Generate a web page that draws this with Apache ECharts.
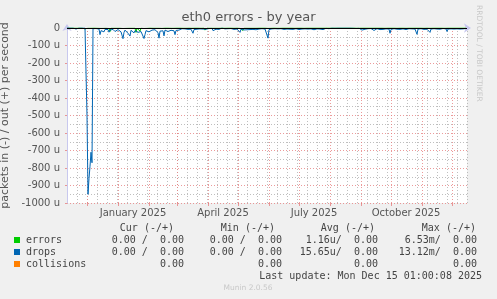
<!DOCTYPE html>
<html>
<head>
<meta charset="utf-8">
<script src="https://cdn.jsdelivr.net/npm/echarts@6/dist/echarts.min.js"></script>
<style>
html,body{margin:0;padding:0;background:#f0f0f0;}
#chart{width:497px;height:299px;}
</style>
</head>
<body>
<div id="chart"></div>
<script>
// ---- data (daily averages, micro-packets per second, "in" direction magnitude) ----
var startDate = '2024-11-11';
var endDate = '2025-12-16';
var dropsIn = [
  0,0,0,0,0,1,0,0,0,6,
  2,0,0,0,0,0,0,1,0,3,
  500,950,860,790,710,770,4,2,8,3,
  8,4,6,38,15,10,14,22,8,12,
  16,9,24,12,10,18,8,15,20,11,
  14,9,17,12,22,15,61,25,12,18,
  16,30,20,46,13,22,10,28,15,18,
  12,25,17,14,20,13,30,60,38,15,
  18,10,22,14,25,12,17,20,10,16,
  14,26,58,18,13,22,16,45,12,18,
  10,20,14,17,13,22,11,16,38,14,
  5,8,12,6,10,4,7,9,5,11,
  6,8,4,10,7,5,30,9,6,4,
  7,3,8,5,9,4,6,3,2,7,
  4,6,3,8,5,2,15,6,4,7,
  3,5,8,4,6,0,0,2,5,3,
  7,4,9,5,3,6,4,8,5,10,
  6,12,8,25,7,9,5,11,6,8,
  10,7,5,9,12,6,8,4,7,10,
  5,9,6,8,11,4,7,13,6,9,
  12,58,9,6,8,5,10,7,4,6,
  8,5,7,9,4,6,3,8,12,5,
  6,9,4,7,14,5,8,6,10,4,
  7,5,9,4,8,6,3,7,5,9,
  4,6,8,3,5,7,4,10,6,3,
  5,8,4,6,3,7,9,4,5,2,
  3,0,4,2,0,0,3,0,1,0,
  2,0,0,5,0,1,0,0,3,0,
  0,2,0,0,4,0,1,0,0,3,
  2,4,1,6,3,12,5,4,7,3,
  6,4,8,5,3,7,4,14,5,6,
  4,7,5,9,3,6,8,4,10,5,
  7,4,6,30,8,5,9,4,6,3,
  7,5,4,8,6,18,5,7,4,9,
  5,8,4,6,10,5,7,4,6,8,
  36,6,5,9,4,7,5,8,3,6,
  7,4,9,25,6,5,8,4,7,5,
  6,9,4,7,5,8,3,6,9,5,
  20,6,4,8,5,7,3,6,4,9,
  5,7,4,6,3,8,5,4,6,3
];
var errorsIn = [
  0,0,0,0,0,0,0,0,0,1,
  0,0,0,0,0,0,0,0,5,1,
  2,1,0,0,1,0,1,0,2,1,
  1,0,1,2,0,1,2,1,0,1,
  2,1,3,20,1,2,0,1,2,1,
  1,0,2,1,2,1,3,1,0,2,
  1,2,1,3,0,1,1,2,1,25,
  1,2,0,18,1,2,1,3,1,1,
  2,1,1,0,2,1,1,2,0,1,
  1,2,1,1,0,2,1,1,0,1,
  1,0,1,2,1,1,0,1,2,1,
  0,1,1,0,1,0,1,1,0,1,
  1,0,0,1,0,1,2,1,0,0,
  1,0,1,0,1,0,1,0,12,1,
  0,1,0,1,0,0,1,0,0,1,
  0,0,1,0,1,0,0,0,1,0,
  1,0,1,0,0,1,0,1,0,1,
  0,1,0,2,1,0,14,1,0,1,
  1,0,0,1,1,0,1,0,0,1,
  0,1,0,1,1,0,0,1,0,1,
  1,2,0,0,1,0,1,0,0,1,
  1,0,0,1,0,0,0,1,1,0,
  0,1,0,0,1,0,1,0,1,0,
  0,0,1,0,0,0,0,1,0,0,
  0,0,1,0,0,1,0,0,0,0,
  0,1,0,0,0,0,1,0,0,0,
  0,0,0,0,0,0,0,0,0,0,
  0,0,0,0,0,0,0,0,0,0,
  0,0,0,0,0,0,0,0,0,0,
  0,1,0,0,0,1,0,0,1,0,
  0,0,1,0,0,1,0,1,0,0,
  0,1,0,0,0,0,1,0,1,0,
  0,0,0,2,0,0,1,0,0,0,
  1,0,0,0,0,1,0,0,0,1,
  0,0,0,1,0,0,0,0,0,1,
  1,0,0,0,0,0,0,1,0,0,
  0,0,1,1,0,0,0,0,0,0,
  0,1,0,0,0,0,0,0,1,0,
  1,0,0,0,0,0,0,0,0,0,
  0,9,0,0,0,1,0,0,0,0
];
var monthStarts = ['2024-12-01','2025-01-01','2025-02-01','2025-03-01','2025-04-01','2025-05-01',
  '2025-06-01','2025-07-01','2025-08-01','2025-09-01','2025-10-01','2025-11-01','2025-12-01'];
var labelMonths = ['2025-01-01','2025-04-01','2025-07-01','2025-10-01'];
var labelTexts = ['January 2025','April 2025','July 2025','October 2025'];

var legendNames = ['errors','drops','collisions'];
var legendColors = ['#00cc00','#0066b3','#ff8000'];
var legendHeaders = ['Cur (-/+)','Min (-/+)','Avg (-/+)','Max (-/+)'];
var curVals = ['0.00 /  0.00','0.00 /  0.00','0.00'];
var minVals = ['0.00 /  0.00','0.00 /  0.00','0.00'];
var avgVals = ['1.16u/  0.00','15.65u/  0.00','0.00'];
var maxVals = ['6.53m/  0.00','13.12m/  0.00','0.00'];
var lastUpdate = 'Last update: Mon Dec 15 01:00:08 2025';

// ---- helpers ----
function dayIdx(s){
  var a = s.split('-'), b = startDate.split('-');
  return (Date.UTC(+a[0],+a[1]-1,+a[2]) - Date.UTC(+b[0],+b[1]-1,+b[2]))/86400000;
}
var xMax = dayIdx(endDate);
var monthPos = monthStarts.map(dayIdx);
var labelPos = labelMonths.map(function(d){return dayIdx(d)+15;});

var chart = echarts.init(document.getElementById('chart'), null, {renderer:'canvas'});
var mono = 'DejaVu Sans Mono';
var txt = '#444';
var graphics = [];
graphics.push({type:'text', left:'center', top:11, style:{text:'eth0 errors - by year', font:'13px "DejaVu Sans"', fill:'#555'}});
graphics.push({type:'text', x:483, y:5, rotation:-Math.PI/2, style:{text:'RRDTOOL / TOBI OETIKER', font:'7.5px "DejaVu Sans"', fill:'#c8c8c8', textVerticalAlign:'top'}});
graphics.push({type:'text', x:248, y:288, style:{text:'Munin 2.0.56', font:'7.5px "DejaVu Sans"', fill:'#c8c8c8', textAlign:'center', textVerticalAlign:'middle'}});
var colEnds = [184,282,378,477];
var headEnds = [174,275,375,476];
legendHeaders.forEach(function(h,i){
  graphics.push({type:'text', x:headEnds[i], y:228, style:{text:h, font:'10px "'+mono+'"', fill:txt, textAlign:'right', textVerticalAlign:'middle'}});
});
legendNames.forEach(function(n,r){
  var y = 240 + r*12;
  graphics.push({type:'rect', shape:{x:14, y:y-3, width:6, height:6}, style:{fill:legendColors[r]}});
  graphics.push({type:'text', x:26, y:y, style:{text:n, font:'10px "'+mono+'"', fill:txt, textVerticalAlign:'middle'}});
  [curVals,minVals,avgVals,maxVals].forEach(function(arr,c){
    graphics.push({type:'text', x:colEnds[c], y:y, style:{text:arr[r], font:'10px "'+mono+'"', fill:txt, textAlign:'right', textVerticalAlign:'middle'}});
  });
});
graphics.push({type:'text', x:482, y:276, style:{text:lastUpdate, font:'10px "'+mono+'"', fill:txt, textAlign:'right', textVerticalAlign:'middle'}});

var gridRed = 'rgba(230,120,120,0.75)';
var gridGray = 'rgba(170,170,170,0.75)';
var axisCol = '#c8c8ee';

chart.setOption({
  animation:false,
  backgroundColor:'#f0f0f0',
  grid:{left:67, right:30, top:28, bottom:96, show:true, backgroundColor:'#ffffff', borderWidth:0,
        containLabel:false, outerBoundsMode:'none'},
  xAxis:[{
    type:'value', min:0, max:xMax, interval:10,
    axisLine:{show:true, lineStyle:{color:axisCol, width:1}, symbol:['none','arrow'], symbolSize:[7,7], symbolOffset:[0,4]},
    axisTick:{show:false}, axisLabel:{show:false},
    splitLine:{show:true, lineStyle:{color:gridGray, width:1, type:[1,2]}}
  },{
    type:'value', min:0, max:xMax, position:'bottom',
    axisLine:{show:false},
    axisTick:{show:true, customValues:monthPos, length:3, inside:false, lineStyle:{color:gridRed}},
    axisLabel:{show:true, customValues:labelPos, margin:5, fontSize:10, fontFamily:'DejaVu Sans', color:'#555',
      formatter:function(v){
        for (var i=0;i<labelPos.length;i++){ if (Math.abs(labelPos[i]-v)<0.5) return labelTexts[i]; }
        return '';
      }},
    splitLine:{show:true, lineStyle:{color:gridRed, width:1, type:[1,2]}}
  }],
  yAxis:{
    type:'value', min:-1000, max:0, interval:100,
    name:'packets in (-) / out (+) per second', nameLocation:'middle', nameGap:47, nameRotate:90,
    nameTextStyle:{fontSize:11, fontFamily:'DejaVu Sans', color:'#555'},
    axisLine:{show:true, lineStyle:{color:axisCol, width:1}, symbol:['none','arrow'], symbolSize:[7,7], symbolOffset:[0,4]},
    axisTick:{show:true, length:2, lineStyle:{color:gridRed}},
    axisLabel:{margin:7, fontSize:10, fontFamily:'DejaVu Sans', color:'#555',
      formatter:function(v){ return v===0 ? '0' : v+' u'; }},
    splitLine:{show:true, lineStyle:{color:gridRed, width:1, type:[1,2]}},
    minorTick:{show:false, splitNumber:2},
    minorSplitLine:{show:true, lineStyle:{color:gridGray, width:1, type:[1,2]}}
  },
  series:[{
    name:'errors', type:'line', xAxisIndex:0, showSymbol:false, symbol:'none',
    lineStyle:{color:'#00cc00', width:1}, itemStyle:{color:'#00cc00'},
    data:errorsIn.map(function(v,i){return [i,-v];}), z:3
  },{
    name:'drops', type:'line', xAxisIndex:0, showSymbol:false, symbol:'none',
    lineStyle:{color:'#0066b3', width:1}, itemStyle:{color:'#0066b3'},
    data:dropsIn.map(function(v,i){return [i,-v];}), z:4,
    markLine:{silent:true, symbol:'none', label:{show:false}, animation:false,
      lineStyle:{color:'#000', width:1, type:'solid'}, data:[{yAxis:0}]}
  }],
  graphic:graphics
});
</script>
</body>
</html>
